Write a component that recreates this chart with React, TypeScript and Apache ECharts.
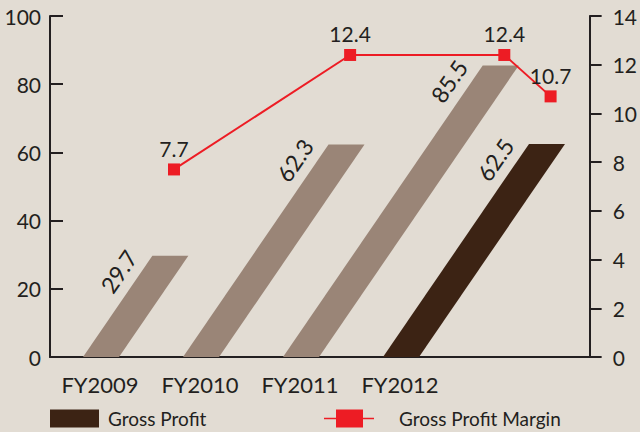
import React, { useEffect, useRef } from 'react';
import * as echarts from 'echarts';

const categories = ['FY2009', 'FY2010', 'FY2011', 'FY2012'];
const grossProfit = [29.7, 62.3, 85.5, 62.5];
const grossProfitMargin = [7.7, 12.4, 12.4, 10.7];
const leftAxisRange = [0, 100, 20];
const rightAxisRange = [0, 14, 2];
const seriesNames = ['Gross Profit', 'Gross Profit Margin'];

const BG = '#e2dcd3';
const LIGHT = '#9a8577';
const DARK = '#3c2314';
const RED = '#ed1c24';
const INK = '#231f20';
const FONT = 'Lato, "Noto Sans", sans-serif';
const SKEW = 0.685;

export default function App() {
  const ref = useRef<HTMLDivElement>(null);
  useEffect(() => {
    if (!ref.current) return;
    const chart = echarts.init(ref.current, undefined, { renderer: 'svg' });
    const barTops: number[][] = [];
    const angle = Math.atan2(1, SKEW);
    const ux = Math.cos(angle), uy = -Math.sin(angle);
    const nx = uy, ny = -ux;

    const option: any = {
      animation: false,
      backgroundColor: BG,
      grid: [
        { left: 50, top: 16, width: 400, height: 341 },
        { left: 50, top: 16, right: 48, height: 341 },
      ],
      xAxis: [
        {
          type: 'category', gridIndex: 0, data: categories,
          axisLine: { show: false }, axisTick: { show: false },
          axisLabel: { color: INK, fontSize: 22, fontFamily: FONT, margin: 16, interval: 0, hideOverlap: false },
        },
        {
          type: 'value', gridIndex: 1, min: 0, max: 1,
          axisLine: { show: true, onZero: false, lineStyle: { color: INK, width: 2 } },
          axisTick: { show: false }, axisLabel: { show: false }, splitLine: { show: false },
        },
      ],
      yAxis: [
        {
          type: 'value', gridIndex: 0, position: 'left',
          min: leftAxisRange[0], max: leftAxisRange[1], interval: leftAxisRange[2],
          axisLine: { show: true, onZero: false, lineStyle: { color: INK, width: 2 } },
          axisTick: { show: true, inside: true, length: 13, lineStyle: { color: INK, width: 2 } },
          axisLabel: { color: INK, fontSize: 21, fontFamily: FONT, margin: 9, padding: [4, 0, 0, 0] },
          splitLine: { show: false },
        },
        {
          type: 'value', gridIndex: 1, position: 'right',
          min: rightAxisRange[0], max: rightAxisRange[1], interval: rightAxisRange[2],
          axisLine: { show: true, onZero: false, lineStyle: { color: INK, width: 2 } },
          axisTick: { show: true, inside: false, length: 12, lineStyle: { color: INK, width: 2 } },
          axisLabel: { color: INK, fontSize: 21, fontFamily: FONT, margin: 23, padding: [4, 0, 0, 0] },
          splitLine: { show: false },
        },
      ],
      legend: [
        {
          left: 50, top: 409, padding: 0, itemWidth: 49, itemHeight: 18, selectedMode: false,
          data: [{ name: seriesNames[0], icon: 'rect' }],
          textStyle: { color: INK, fontSize: 19, fontFamily: FONT, padding: [0, 0, 0, 4] },
        },
        {
          left: 324, top: 409, padding: 0, itemWidth: 50, itemHeight: 18, selectedMode: false,
          data: [{ name: seriesNames[1], icon: 'path://M0,8.2H50V9.8H0Z M12,0H39V18H12Z' }],
          textStyle: { color: INK, fontSize: 19, fontFamily: FONT, padding: [0, 0, 0, 20] },
        },
      ],
      series: [
        {
          name: seriesNames[0], type: 'custom', xAxisIndex: 0, yAxisIndex: 0,
          itemStyle: { color: DARK },
          encode: { x: 0, y: 1 },
          data: categories.map((_, i) => [i, grossProfit[i]]),
          renderItem: (params: any, api: any) => {
            const i = params.dataIndex;
            const v = api.value(1);
            const base = api.coord([api.value(0), 0]);
            const top = api.coord([api.value(0), v]);
            const bw = api.size([1, 0])[0] * 0.36;
            const h = base[1] - top[1];
            const dx = SKEW * h;
            const x0 = base[0] - bw / 2 + 1;
            const tlx = x0 + dx, tly = top[1];
            barTops[i] = [tlx + bw * 0.6, tly];
            const color = i === categories.length - 1 ? DARK : LIGHT;
            const back = 32, out = 19;
            return {
              type: 'group',
              children: [
                {
                  type: 'polygon',
                  shape: { points: [[x0, base[1]], [x0 + bw, base[1]], [x0 + bw + dx, tly], [tlx, tly]] },
                  style: { fill: color },
                },
                {
                  type: 'text',
                  x: tlx - back * ux + out * nx,
                  y: tly - back * uy + out * ny,
                  rotation: angle,
                  style: {
                    text: v.toFixed(1), fill: INK, fontSize: 23, fontFamily: FONT,
                    align: 'center', verticalAlign: 'middle',
                  },
                },
              ],
            };
          },
        },
        {
          name: seriesNames[1], type: 'custom', xAxisIndex: 1, yAxisIndex: 1,
          itemStyle: { color: RED },
          encode: { x: 0, y: 1 },
          data: grossProfitMargin.map((m) => [0.5, m]),
          z: 5,
          renderItem: (params: any, api: any) => {
            const i = params.dataIndex;
            const v = api.value(1);
            const y = api.coord([0.5, v])[1];
            const x = barTops[i] ? barTops[i][0] : 0;
            const children: any[] = [];
            if (i < grossProfitMargin.length - 1 && barTops[i + 1]) {
              const y2 = api.coord([0.5, grossProfitMargin[i + 1]])[1];
              children.push({
                type: 'line',
                shape: { x1: x, y1: y, x2: barTops[i + 1][0], y2 },
                style: { stroke: RED, lineWidth: 2 },
              });
            }
            children.push({ type: 'rect', shape: { x: x - 6, y: y - 6, width: 12, height: 12 }, style: { fill: RED } });
            children.push({
              type: 'text', x, y: y - 21,
              style: { text: v.toFixed(1), fill: INK, fontSize: 21, fontFamily: FONT, align: 'center', verticalAlign: 'middle' },
            });
            return { type: 'group', children };
          },
        },
      ],
    };
    chart.setOption(option);
    return () => chart.dispose();
  }, []);
  return <div ref={ref} style={{ position: 'fixed', left: 0, top: 0, width: 640, height: 432 }} />;
}
